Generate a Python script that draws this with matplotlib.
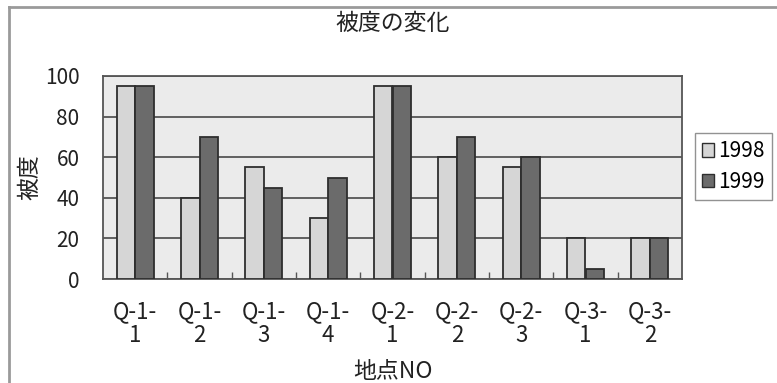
import numpy as np
import matplotlib
matplotlib.use("Agg")
import matplotlib.pyplot as plt
from matplotlib.lines import Line2D
from matplotlib.patches import Patch

# Noto CJK covers both the Japanese and the Latin text
plt.rcParams['font.family'] = ['Noto Sans CJK JP', 'DejaVu Sans']

sites = ["Q-1-\n1", "Q-1-\n2", "Q-1-\n3", "Q-1-\n4", "Q-2-\n1",
         "Q-2-\n2", "Q-2-\n3", "Q-3-\n1", "Q-3-\n2"]
cover_1998 = [95, 40, 55, 30, 95, 60, 55, 20, 20]
cover_1999 = [95, 70, 45, 50, 95, 70, 60, 5, 20]
years = ["1998", "1999"]
y_ticks = [0, 20, 40, 60, 80, 100]

light = "#d6d6d6"
dark = "#6b6b6b"
edge = "#2e2e2e"
txt = "#222222"

fig = plt.figure(figsize=(7.77, 3.83), dpi=100)
ax = fig.add_axes([103 / 777, 1 - 279 / 383, 579 / 777, 203 / 383])
ax.set_facecolor("#ebebeb")

x = np.arange(len(sites))
w = 1 / 3.5  # gap width 150%
ax.bar(x - w / 2, cover_1998, w, color=light, edgecolor=edge, linewidth=1.3, zorder=3)
ax.bar(x + w / 2, cover_1999, w, color=dark, edgecolor=edge, linewidth=1.3, zorder=3)

ax.set_xlim(-0.5, len(sites) - 0.5)
ax.set_ylim(0, 100)
ax.set_yticks(y_ticks)
ax.tick_params(axis='y', length=0, pad=17, labelsize=15, labelcolor=txt)
ax.set_xticks(x)
ax.set_xticklabels(sites, linespacing=1.05)
ax.tick_params(axis='x', which='major', length=0, pad=15, labelsize=16, labelcolor=txt)
ax.set_xticks(np.arange(0.5, len(sites) - 0.5), minor=True)
ax.tick_params(axis='x', which='minor', direction='in', length=5, width=1, color="#555555")

ax.grid(axis='y', color="#555555", linewidth=1.3, zorder=1)
for s in ax.spines.values():
    s.set_color("#555555")
    s.set_linewidth(1.3)

ax.set_title("被度の変化", fontsize=16.5, color=txt, pad=33)
ax.set_ylabel("被度", fontsize=16.5, color=txt)
ax.yaxis.set_label_coords(-62 / 579, 0.5)
ax.set_xlabel("地点NO", fontsize=16.5, color=txt)
ax.xaxis.set_label_coords(0.5, -81 / 203)

handles = [Patch(facecolor=light, edgecolor=edge, linewidth=1),
           Patch(facecolor=dark, edgecolor=edge, linewidth=1)]
leg = fig.legend(handles, years, loc='upper left',
                 bbox_to_anchor=(695 / 777, 1 - 133 / 383),
                 fontsize=15, handlelength=0.55, handleheight=0.6,
                 handletextpad=0.2, borderpad=0.35, labelspacing=0.4,
                 frameon=True, fancybox=False, borderaxespad=0)
leg.get_frame().set_edgecolor("#777777")
leg.get_frame().set_linewidth(1)

# outer chart border (top and left edges)
fig.add_artist(Line2D([9 / 777, 9 / 777], [0, 1 - 7 / 383],
                      transform=fig.transFigure, color="#9a9a9a", lw=2))
fig.add_artist(Line2D([9 / 777, 1], [1 - 7 / 383, 1 - 7 / 383],
                      transform=fig.transFigure, color="#9a9a9a", lw=2))

fig.savefig("out.png", dpi=100)
